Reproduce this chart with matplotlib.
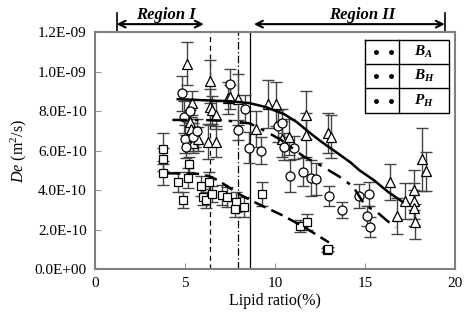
import numpy as np
import matplotlib.pyplot as plt
from matplotlib.ticker import FuncFormatter

plt.rcParams['font.family'] = ['Liberation Serif', 'DejaVu Serif']
plt.rcParams['mathtext.fontset'] = 'custom'
plt.rcParams['mathtext.rm'] = 'Liberation Serif'
plt.rcParams['mathtext.it'] = 'Liberation Serif:italic'
plt.rcParams['mathtext.bf'] = 'Liberation Serif:bold:italic'

# values in units of 1e-10 m^2/s
tri_x = [5.1, 5.4, 5.3, 5.35, 5.55, 5.45, 5.7, 6.3, 6.4, 6.4, 6.5, 6.7, 6.75, 7.4, 7.5, 7.95,
         8.95, 9.6, 10.05, 10.4, 10.8, 11.7, 11.75, 12.95, 13.1, 16.4, 16.8, 17.2, 17.7, 17.7,
         17.7, 17.8, 18.15, 18.4]
tri_y = [10.4, 8.4, 7.45, 7.1, 6.7, 6.4, 6.6, 6.45, 9.5, 8.2, 8.05, 6.45, 7.8, 8.65, 8.7, 8.6,
         7.1, 8.35, 8.35, 6.6, 6.7, 7.8, 6.8, 6.9, 6.7, 4.4, 2.7, 3.45, 4.0, 3.45,
         3.1, 2.4, 5.55, 4.95]
tri_err = [1.1, 0.6, 0.6, 0.6, 0.5, 0.5, 0.6, 0.9, 1.1, 0.9, 0.7, 0.8, 0.7, 0.8, 0.6, 1.3,
           0.9, 1.2, 1.1, 0.9, 0.9, 1.2, 1.1, 1.0, 1.1, 0.9, 0.9, 0.9, 1.0, 0.9,
           0.9, 0.9, 1.6, 1.0]

cir_x = [4.85, 4.95, 5.3, 5.0, 5.05, 5.45, 5.65, 7.5, 7.95, 8.35, 8.55, 9.25, 10.15, 10.4,
         10.5, 11.05, 10.85, 11.55, 12.0, 12.3, 13.0, 13.7, 14.65, 15.25, 15.1, 15.3]
cir_y = [8.9, 7.7, 8.0, 6.6, 6.2, 6.7, 7.0, 9.35, 7.05, 8.1, 6.15, 6.0, 7.25, 7.4,
         6.2, 6.15, 4.7, 4.9, 4.6, 4.55, 3.7, 3.0, 3.7, 3.8, 2.7, 2.15]
cir_err = [0.9, 0.8, 0.6, 0.7, 0.6, 0.7, 0.6, 0.8, 0.5, 0.7, 0.8, 0.7, 0.8, 0.7,
           0.7, 0.6, 0.8, 0.7, 0.9, 0.8, 0.5, 0.4, 0.6, 0.6, 0.5, 0.5]

sq_x = [3.8, 3.8, 3.8, 4.6, 4.9, 5.15, 5.25, 5.9, 6.0, 6.15, 6.35, 6.5, 7.05, 7.35, 7.85,
        7.8, 8.3, 9.3, 11.4, 11.8, 12.9, 12.95]
sq_y = [6.1, 5.55, 4.85, 4.4, 3.5, 4.6, 5.3, 4.2, 3.65, 3.5, 4.4, 3.8, 3.75, 3.65, 3.4,
        3.05, 3.15, 3.8, 2.2, 2.4, 0.95, 1.0]
sq_err = [0.8, 0.6, 0.6, 0.5, 0.4, 0.5, 0.4, 0.5, 0.4, 0.4, 0.5, 0.4, 0.5, 0.5, 0.5,
          0.4, 0.5, 0.6, 0.3, 0.4, 0.1, 0.1]

# fitted curves
fit_tri_x = [4.6, 6.0, 7.5, 8.6, 9.5, 10.5, 11.2, 11.8, 12.5, 13.2, 14.2, 14.7, 15.5, 16.3, 17.1]
fit_tri_y = [8.6, 8.55, 8.5, 8.4, 8.2, 7.85, 7.45, 7.0, 6.5, 6.05, 5.4, 5.0, 4.5, 3.9, 3.4]
fit_cir_x = [4.3, 6.0, 7.5, 8.6, 9.7, 10.4, 11.6, 12.5, 13.6, 14.35, 15.0, 15.65, 16.3, 16.7]
fit_cir_y = [7.55, 7.55, 7.5, 7.38, 6.87, 6.5, 5.7, 5.27, 4.67, 4.17, 3.24, 2.9, 2.4, 2.1]
fit_sq_x = [4.05, 5.9, 6.5, 7.0, 7.5, 8.1, 9.0, 10.4, 11.6, 13.0]
fit_sq_y = [4.85, 4.82, 4.65, 4.4, 4.1, 3.75, 3.33, 2.73, 2.14, 1.35]

vlines = [6.4, 7.93, 8.6]
legend_labels = [r'$\mathbf{B_A}$', r'$\mathbf{B_H}$', r'$\mathbf{P_H}$']

s = 1e-10
fig = plt.figure(figsize=(4.68, 3.27), dpi=100)
ax = fig.add_axes([0.203, 0.177, 0.769, 0.725])

ecol = '#444444'
for x, y, e, m, ms in [(tri_x, tri_y, tri_err, '^', 6.5),
                       (cir_x, cir_y, cir_err, 'o', 6.5),
                       (sq_x, sq_y, sq_err, 's', 6)]:
    ax.errorbar(x, np.array(y) * s, yerr=np.array(e) * s, fmt='none', ecolor=ecol,
                elinewidth=1.0, capsize=4, capthick=1.0, zorder=2)
    ax.plot(x, np.array(y) * s, m, ms=ms, mfc='white', mec='black', mew=0.9, zorder=3)

ax.plot(fit_tri_x, np.array(fit_tri_y) * s, '-', color='black', lw=1.8, zorder=4)
ax.plot(fit_cir_x, np.array(fit_cir_y) * s, color='black', lw=1.8, zorder=4,
        linestyle=(0, (6, 3, 1.5, 3)))
ax.plot(fit_sq_x, np.array(fit_sq_y) * s, color='black', lw=1.8, zorder=4,
        linestyle=(0, (5, 2.5)))

ax.axvline(vlines[0], color='black', lw=0.9, linestyle=(0, (4, 3)), zorder=1)
ax.axvline(vlines[1], color='black', lw=0.9, linestyle=(0, (6, 2, 1, 2)), zorder=1)
ax.axvline(vlines[2], color='black', lw=0.9, zorder=1)

ax.set_xlim(0, 20)
ax.set_ylim(0, 1.2e-9)
ax.set_xticks([0, 5, 10, 15, 20])
ax.set_yticks(np.arange(0, 1.21e-9, 2e-10))
ax.yaxis.set_major_formatter(FuncFormatter(lambda v, p: f'{v:.1E}'))
ax.tick_params(direction='in', color='#999999', length=4, labelsize=11, pad=6)
for sp in ax.spines.values():
    sp.set_color('#808080')
    sp.set_linewidth(1.5)

ax.set_xlabel('Lipid ratio(%)', fontsize=11.5, labelpad=2)
ax.set_ylabel(r'$De$ (m$^2$/s)', fontsize=11.5, labelpad=4)

# legend table
bx0, bx1, bxm = 15.0, 19.67, 16.9
by = [11.6, 10.38, 9.16, 7.9]
kw = dict(color='black', lw=1.0, zorder=5)
ax.plot([bx0, bx1, bx1, bx0, bx0], np.array([by[0], by[0], by[3], by[3], by[0]]) * s, **kw)
ax.plot([bxm, bxm], np.array([by[0], by[3]]) * s, **kw)
for yy in by[1:3]:
    ax.plot([bx0, bx1], [yy * s, yy * s], **kw)
for i, lab in enumerate(legend_labels):
    yc = (by[i] + by[i + 1]) / 2 * s
    ax.plot([15.6, 16.45], [yc, yc], 'o', color='black', ms=2.5, zorder=5)
    ax.text((bxm + bx1) / 2, yc, lab, ha='center', va='center', fontsize=11, zorder=5)

# region arrows
ya = 12.4 * s
ax.annotate('', xy=(1.2, ya), xytext=(6.05, ya), xycoords='data',
            arrowprops=dict(arrowstyle='<->', lw=1.5, color='black', shrinkA=0, shrinkB=0,
                            mutation_scale=12), annotation_clip=False)
ax.annotate('', xy=(8.83, ya), xytext=(19.44, ya), xycoords='data',
            arrowprops=dict(arrowstyle='<->', lw=1.5, color='black', shrinkA=0, shrinkB=0,
                            mutation_scale=12), annotation_clip=False)
for xb in [1.2, 19.44]:
    ax.plot([xb, xb], [12.0 * s, 12.96 * s], color='black', lw=1.2, clip_on=False)
ax.text(3.95, 12.85 * s, 'Region I', ha='center', va='center', fontsize=12,
        fontweight='bold', fontstyle='italic')
ax.text(14.85, 12.85 * s, 'Region II', ha='center', va='center', fontsize=12,
        fontweight='bold', fontstyle='italic')

plt.savefig('out.png', dpi=100)
